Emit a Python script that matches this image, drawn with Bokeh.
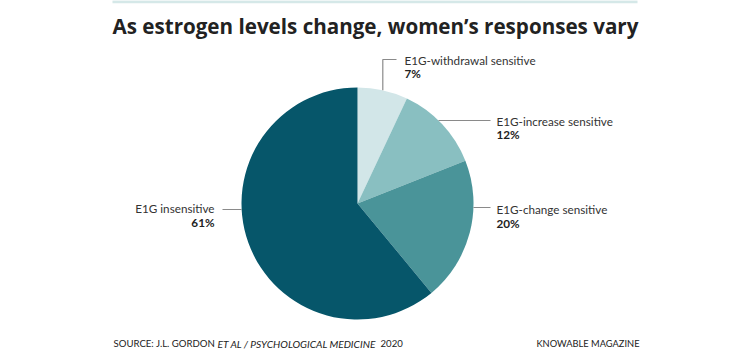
import numpy as np
from bokeh.plotting import figure
from bokeh.models import Range1d, ColumnDataSource
from bokeh.core.properties import value
from bokeh.embed import file_html
from bokeh.resources import INLINE

# ---- data ----
categories = ["E1G-withdrawal sensitive", "E1G-increase sensitive", "E1G-change sensitive", "E1G insensitive"]
shares = [7, 12, 20, 61]
pct_labels = ["7%", "12%", "20%", "61%"]
colors = ["#d2e6e8", "#89bfc1", "#4a9499", "#06566a"]

W, H = 750, 351
FONT = "Lato"

p = figure(width=W, height=H, x_range=Range1d(0, W), y_range=Range1d(H, 0),
           output_backend="svg", toolbar_location=None, min_border=0)
p.axis.visible = False
p.grid.visible = False
p.outline_line_color = None
p.background_fill_color = "white"
p.border_fill_color = "white"

# top rule
p.segment(x0=[112], y0=[1.2], x1=[637], y1=[1.2], line_color="#d5e8e8", line_width=3)

# title
p.text(x=[112], y=[25], text=["As estrogen levels change, women\u2019s responses vary"],
       text_font=value("Open Sans"), text_font_style="bold", text_font_size="20.6px",
       text_color="#222222", text_baseline="middle", text_align="left")

# pie
cx, cy, r = 357, 203, 116
fr = np.array(shares, dtype=float) / sum(shares)
cum = np.concatenate([[0], np.cumsum(fr)])
start = np.pi / 2 - 2 * np.pi * cum[:-1]
end = np.pi / 2 - 2 * np.pi * cum[1:]
src = ColumnDataSource(dict(start=start, end=end, color=colors))
p.wedge(x=cx, y=cy, radius=r, start_angle="start", end_angle="end", direction="clock",
        fill_color="color", line_color=None, source=src)

# leader lines
lc = "#8a8a8a"
mid0 = (start[0] + end[0]) / 2
ax0 = cx + r * np.cos(mid0)
ay0 = cy - r * np.sin(mid0)
p.line(x=[ax0, ax0, 396], y=[ay0, 59, 59], line_color=lc, line_width=1.2)

def edge_x(yv, side):
    d = yv - cy
    return cx + side * np.sqrt(r * r - d * d)

p.line(x=[edge_x(120, 1), 490], y=[120, 120], line_color=lc, line_width=1.2)
p.line(x=[edge_x(207, 1), 490], y=[207, 207], line_color=lc, line_width=1.2)
p.line(x=[222, edge_x(209, -1)], y=[209, 209], line_color=lc, line_width=1.2)

# labels
lab_x = [404, 496, 496, 214]
lab_y = [59, 120, 208, 207]
pct_y = [72, 133, 222, 221]
align = ["left", "left", "left", "right"]
for i in range(4):
    p.text(x=[lab_x[i]], y=[lab_y[i]], text=[categories[i]], text_font=value(FONT),
           text_font_size="11.7px", text_color="#333333", text_baseline="middle", text_align=align[i])
    p.text(x=[lab_x[i]], y=[pct_y[i]], text=[pct_labels[i]], text_font=value(FONT),
           text_font_style="bold", text_font_size="11.7px", text_color="#222222",
           text_baseline="middle", text_align=align[i])

# footer
fy = 343
p.text(x=[113], y=[fy], text=["SOURCE: J.L. GORDON"], text_font=value(FONT), text_font_size="9.6px",
       text_color="#222222", text_baseline="middle", text_align="left")
p.text(x=[217], y=[fy], text=["ET AL / PSYCHOLOGICAL MEDICINE"], text_font=value(FONT),
       text_font_style="italic", text_font_size="10.2px", text_color="#222222",
       text_baseline="middle", text_align="left")
p.text(x=[380], y=[fy], text=["2020"], text_font=value(FONT), text_font_size="9.6px",
       text_color="#222222", text_baseline="middle", text_align="left")
p.text(x=[639], y=[fy], text=["KNOWABLE MAGAZINE"], text_font=value(FONT), text_font_size="9.3px",
       text_color="#222222", text_baseline="middle", text_align="right")

open("out.html", "w").write(file_html(p, INLINE))
